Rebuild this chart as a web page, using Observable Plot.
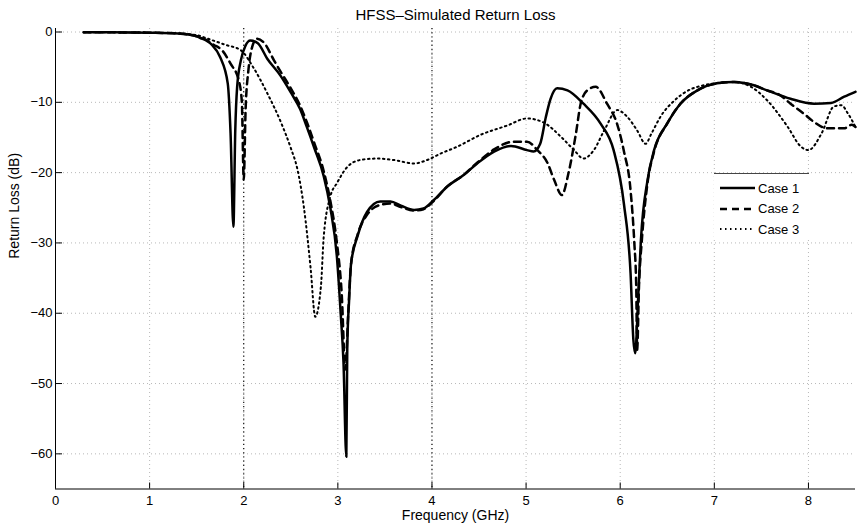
<!DOCTYPE html>
<html><head><meta charset="utf-8">
<script src="https://cdn.jsdelivr.net/npm/d3@7"></script>
<script src="https://cdn.jsdelivr.net/npm/@observablehq/plot@0.6"></script>
<style>
body{margin:0;background:#fff;font-family:"Liberation Sans",Arial,Helvetica,sans-serif}
#wrap{position:relative;width:858px;height:530px}
#legend{position:absolute;left:714px;top:173px;width:95px;height:63px;border-top:1px solid #444;background:#fff;font-size:13px}
.row{position:absolute;left:5px;height:20px;display:flex;align-items:center}
.row svg{margin-right:2px}
</style></head><body><div id="wrap"></div>
<script>
const title = "HFSS–Simulated Return Loss";
const xLabel = "Frequency (GHz)";
const yLabel = "Return Loss (dB)";
const seriesNames = ["Case 1", "Case 2", "Case 3"];
const xTicks = [0, 1, 2, 3, 4, 5, 6, 7, 8];
const yTicks = [0, -10, -20, -30, -40, -50, -60];
const markedFreqs = [2, 4];

// [frequency GHz, return loss dB]
const case1 = [[0.30,-0.05],[0.60,-0.05],[1.00,-0.1],[1.30,-0.2],[1.50,-0.6],[1.54,-0.85],[1.60,-1.2],[1.66,-1.8],[1.75,-3.6],[1.83,-7.3],[1.86,-14.4],[1.89,-27.7],[1.91,-14],[1.93,-7.8],[1.97,-4],[2.02,-1.9],[2.07,-1.2],[2.15,-1.6],[2.25,-3.8],[2.39,-6.2],[2.50,-8.6],[2.60,-11],[2.67,-13.5],[2.75,-16.5],[2.85,-20.5],[2.92,-25],[2.99,-32],[3.03,-40],[3.06,-47],[3.09,-60.4],[3.10,-45],[3.12,-38],[3.14,-33],[3.21,-29],[3.31,-25.6],[3.45,-24.1],[3.56,-24.1],[3.67,-24.7],[3.81,-25.3],[3.91,-25.1],[4.02,-23.9],[4.16,-22],[4.34,-20.3],[4.48,-18.7],[4.66,-17],[4.84,-16.2],[5.01,-16.8],[5.08,-17],[5.15,-15.9],[5.21,-12.1],[5.26,-9.5],[5.33,-8.0],[5.44,-8.3],[5.61,-10.2],[5.79,-13],[5.93,-16.8],[6.04,-24.5],[6.11,-34.3],[6.14,-43.8],[6.16,-45.7],[6.19,-38],[6.22,-29.6],[6.29,-21.1],[6.36,-16.8],[6.50,-13],[6.64,-10.2],[6.82,-8.3],[7.03,-7.3],[7.21,-7.1],[7.40,-7.5],[7.56,-8.3],[7.81,-9.5],[8.06,-10.2],[8.24,-10.1],[8.38,-9.2],[8.50,-8.5]];
const case2 = [[0.30,-0.05],[0.60,-0.05],[1.00,-0.1],[1.30,-0.2],[1.50,-0.6],[1.60,-1.1],[1.68,-1.8],[1.77,-2.6],[1.86,-4.5],[1.95,-7.0],[1.98,-10],[2.00,-21],[2.02,-11],[2.05,-5.4],[2.09,-2.1],[2.14,-0.95],[2.22,-1.6],[2.32,-4.0],[2.39,-5.6],[2.50,-8.0],[2.60,-10.5],[2.67,-12.8],[2.75,-15.8],[2.85,-19.8],[2.92,-24],[2.99,-30],[3.04,-37],[3.08,-48],[3.11,-40],[3.14,-33],[3.21,-28.8],[3.31,-26],[3.45,-24.6],[3.56,-24.4],[3.67,-24.9],[3.81,-25.4],[3.91,-25.2],[4.02,-24],[4.16,-22],[4.34,-20.3],[4.48,-18.6],[4.66,-16.7],[4.87,-15.6],[5.01,-15.6],[5.12,-16.8],[5.23,-18.7],[5.30,-21.1],[5.38,-23.2],[5.45,-20.1],[5.53,-14.4],[5.58,-10.2],[5.65,-8.3],[5.74,-7.8],[5.86,-10.2],[5.97,-13.2],[6.04,-17],[6.11,-22.5],[6.15,-30],[6.17,-36],[6.18,-45.2],[6.20,-36],[6.23,-29.6],[6.29,-21.5],[6.36,-17],[6.50,-13],[6.64,-10.2],[6.82,-8.3],[7.03,-7.3],[7.21,-7.1],[7.40,-7.5],[7.56,-8.3],[7.70,-9.0],[7.81,-10.2],[7.95,-11.6],[8.06,-12.8],[8.20,-13.7],[8.38,-13.7],[8.46,-13.2],[8.50,-13.5]];
const case3 = [[0.30,-0.05],[0.60,-0.05],[1.00,-0.1],[1.30,-0.2],[1.50,-0.45],[1.65,-1.1],[1.80,-1.8],[1.97,-2.6],[2.10,-5.0],[2.25,-8.7],[2.40,-13],[2.50,-16.5],[2.57,-19.5],[2.64,-25],[2.71,-33.5],[2.76,-40.5],[2.82,-36.2],[2.85,-29.1],[2.92,-23.4],[2.99,-21.5],[3.10,-19.2],[3.24,-18.2],[3.42,-18.0],[3.59,-18.2],[3.81,-18.7],[3.95,-18.2],[4.09,-17.3],[4.27,-16.3],[4.52,-14.6],[4.80,-13.3],[5.01,-12.3],[5.19,-12.9],[5.37,-14.9],[5.51,-16.8],[5.61,-18],[5.72,-16.8],[5.83,-14],[5.97,-11.1],[6.07,-12],[6.18,-14],[6.27,-15.9],[6.33,-14.5],[6.43,-12],[6.58,-9.7],[6.82,-7.8],[7.20,-7.1],[7.39,-7.8],[7.56,-9.7],[7.78,-13.5],[7.92,-16.3],[8.00,-16.8],[8.14,-14.4],[8.27,-10.6],[8.35,-10.4],[8.42,-11.6],[8.50,-13.5]];

const styles = [
  {width: 2.5, dash: null},
  {width: 2.5, dash: "7,5"},
  {width: 2, dash: "1.5,3.5"}
];
const allCases = [case1, case2, case3];

const W = 858, H = 530, mL = 55, mR = 3, mT = 28, mB = 41.5;
const frameW = W - mL - mR, frameH = H - mT - mB;
const font = '"Liberation Sans", Arial, Helvetica, sans-serif';

const lineMarks = allCases.map((c, i) => Plot.line(c, {
  x: d => d[0], y: d => d[1], stroke: "#000", strokeWidth: styles[i].width,
  strokeDasharray: styles[i].dash, curve: "monotone-x"
}));

const chart = Plot.plot({
  width: W, height: H,
  marginLeft: mL, marginRight: mR, marginTop: mT, marginBottom: mB,
  style: {fontFamily: font, fontSize: "13px", color: "#000", background: "#fff", overflow: "visible"},
  x: {domain: [0, 8.5], ticks: xTicks, tickSize: 0, tickPadding: 7, label: null, tickFormat: d => String(d)},
  y: {domain: [-65, 0.5], ticks: yTicks, tickSize: 0, tickPadding: 3, label: null},
  marks: [
    Plot.ruleX(xTicks, {stroke: "#b8b8b8", strokeDasharray: "1,3"}),
    Plot.ruleY(yTicks, {stroke: "#b8b8b8", strokeDasharray: "1,3"}),
    Plot.ruleX(markedFreqs, {stroke: "#000", strokeWidth: 1.1, strokeDasharray: "1.2,3"}),
    ...lineMarks,
    Plot.ruleX([0], {stroke: "#000"}),
    Plot.ruleY([-65], {stroke: "#000"}),
    Plot.ruleX(xTicks, {stroke: "#000", insetTop: frameH - 6}),
    Plot.ruleY(yTicks, {stroke: "#000", insetRight: frameW - 7}),
    Plot.text([title], {text: d => d, frameAnchor: "top", dy: -19, fontSize: 15}),
    Plot.text([xLabel], {text: d => d, frameAnchor: "bottom", dy: 30.5, fontSize: 14}),
    Plot.text([yLabel], {text: d => d, frameAnchor: "left", dx: -41, rotate: -90, fontSize: 14})
  ]
});
const wrap = document.getElementById("wrap");
wrap.appendChild(chart);

// legend
const legend = document.createElement("div");
legend.id = "legend";
seriesNames.forEach((name, i) => {
  const row = document.createElement("div");
  row.className = "row";
  row.style.top = (4 + i * 20.5) + "px";
  const s = styles[i];
  row.innerHTML = `<svg width="37" height="10"><line x1="1" y1="5" x2="36" y2="5" stroke="#000" stroke-width="${s.width}" ${s.dash ? `stroke-dasharray="${s.dash}"` : ""}/></svg><span>${name}</span>`;
  legend.appendChild(row);
});
wrap.appendChild(legend);
</script>
</body></html>
